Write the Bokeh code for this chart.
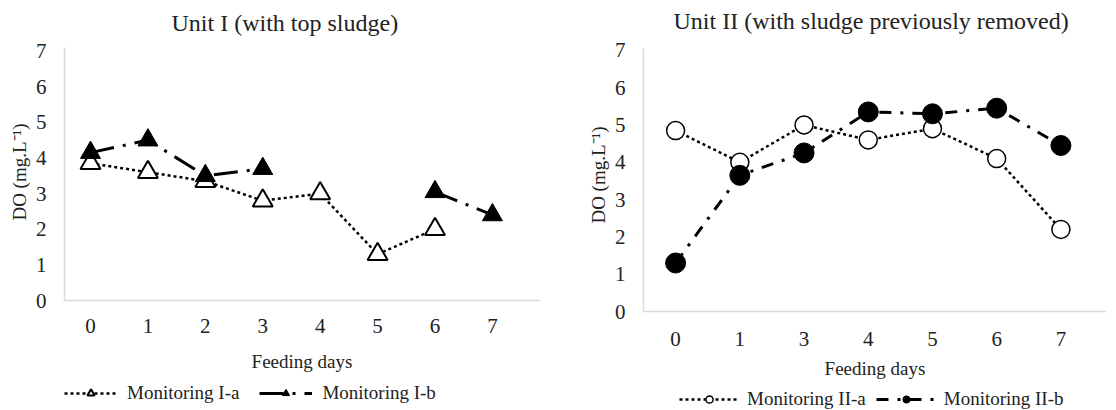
import math
from bokeh.plotting import figure
from bokeh.layouts import row, column
from bokeh.models import FixedTicker, Legend, LegendItem
from bokeh.embed import file_html
from bokeh.resources import INLINE

nan = float("nan")

# ---------- data ----------
days_1 = [0, 1, 2, 3, 4, 5, 6, 7]
mon_1a = [3.85, 3.6, 3.35, 2.8, 3.0, 1.3, 2.0, nan]
mon_1b = [4.15, 4.5, 3.5, 3.7, nan, nan, 3.05, 2.4]

days_2_labels = ["0", "1", "3", "4", "5", "6", "7"]
mon_2a = [4.85, 4.0, 5.0, 4.6, 4.9, 4.1, 2.2]
mon_2b = [1.3, 3.65, 4.25, 5.35, 5.3, 5.45, 4.45]

y_ticks = [0, 1, 2, 3, 4, 5, 6, 7]

series_names_1 = ["Monitoring I-a", "Monitoring I-b"]
series_names_2 = ["Monitoring II-a", "Monitoring II-b"]

FONT = "Liberation Serif"
AXIS_GRAY = "#d9d9d9"
TXT = "#222222"

STYLE_A = dict(line_color="black", line_width=2.5, line_dash="3 3")
STYLE_1B = dict(line_color="black", line_width=3, line_dash="24 9 3 9")
STYLE_2B = dict(line_color="black", line_width=3, line_dash="12 9 3 9")
TRI_OPEN = dict(marker="triangle", size=20, fill_color="white", line_color="black", line_width=2)
TRI_FULL = dict(marker="triangle", size=20, fill_color="black", line_color="black", line_width=1)
CIR_OPEN = dict(marker="circle", size=18, fill_color="white", line_color="black", line_width=1.5)
CIR_FULL = dict(marker="circle", size=20, fill_color="black", line_color="black", line_width=1)


def style(p, tick_standoff_x, label_standoff_x, y_top):
    p.xgrid.visible = False
    p.ygrid.visible = False
    p.outline_line_color = None
    p.background_fill_color = "white"
    p.border_fill_color = "white"
    for ax in (p.xaxis[0], p.yaxis[0]):
        ax.axis_line_color = AXIS_GRAY
        ax.axis_line_width = 1.5
        ax.major_tick_line_color = None
        ax.minor_tick_line_color = None
        ax.major_label_text_font = FONT
        ax.major_label_text_font_size = "21px"
        ax.major_label_text_color = TXT
        ax.axis_label_text_font = FONT
        ax.axis_label_text_font_size = "19px"
        ax.axis_label_text_font_style = "normal"
        ax.axis_label_text_color = TXT
    p.xaxis[0].major_label_standoff = tick_standoff_x
    p.xaxis[0].axis_label_standoff = label_standoff_x
    p.yaxis[0].major_label_standoff = 12
    p.yaxis[0].axis_label_standoff = 3
    p.yaxis[0].ticker = FixedTicker(ticks=y_ticks)
    p.yaxis[0].bounds = (0, y_top)
    p.title.text_font = FONT
    p.title.text_font_size = "24px"
    p.title.text_font_style = "normal"
    p.title.text_color = TXT
    p.title.align = "left"


def legend_fig(width, height, names, styles, x, y, glyph_w, spacing, standoff):
    lf = figure(width=width, height=height, x_range=(0, 1), y_range=(0, 1),
                x_axis_type=None, y_axis_type=None, output_backend="svg",
                toolbar_location=None, min_border=0, outline_line_color=None)
    lf.background_fill_color = "white"
    lf.border_fill_color = "white"
    items = []
    for name, (lstyle, mstyle) in zip(names, styles):
        r1 = lf.line(x=[nan], y=[nan], **lstyle)
        r2 = lf.scatter(x=[nan], y=[nan], **mstyle)
        items.append(LegendItem(label=name, renderers=[r1, r2]))
    leg = Legend(items=items, orientation="horizontal", location=(x, y),
                 glyph_width=glyph_w, glyph_height=18, label_height=18,
                 label_standoff=standoff, spacing=spacing,
                 padding=0, margin=0, border_line_color=None, background_fill_alpha=0,
                 label_text_font=FONT, label_text_font_size="19px", label_text_color=TXT)
    lf.add_layout(leg, "center")
    return lf


# ---------- left panel ----------
PX1 = 253 / 7.1
p1 = figure(frame_width=475, frame_height=257, x_range=(-0.453, 7.82),
            y_range=(0, 257 / PX1),
            output_backend="svg", toolbar_location=None,
            min_border_left=64, min_border_right=20, min_border_top=43, min_border_bottom=80,
            title="Unit I (with top sludge)")
style(p1, 12, 15, 7.1)
p1.title.offset = 107
p1.title.standoff = 15
p1.xaxis[0].ticker = FixedTicker(ticks=days_1)
p1.xaxis.axis_label = "Feeding days"
p1.yaxis.axis_label = "DO (mg.L\u207b\u00b9)"

p1.line(days_1, mon_1a, **STYLE_A)
p1.scatter(days_1, mon_1a, **TRI_OPEN)
p1.line(days_1, mon_1b, **STYLE_1B)
p1.scatter(days_1, mon_1b, **TRI_FULL)

lf1 = legend_fig(64 + 475 + 20, 26, series_names_1,
                 [(STYLE_A, TRI_OPEN), (STYLE_1B, TRI_FULL)], 0, 2, 53, 20, 10)

# ---------- right panel ----------
PX2 = 263 / 7.05
idx2 = list(range(len(days_2_labels)))
p2 = figure(frame_width=463, frame_height=273, x_range=(-0.5, 6.71),
            y_range=(0, 273 / PX2),
            output_backend="svg", toolbar_location=None,
            min_border_left=84, min_border_right=0, min_border_top=38, min_border_bottom=75,
            title="Unit II (with sludge previously removed)")
style(p2, 14, 9, 7.05)
p2.title.offset = 30
p2.title.standoff = 10
p2.xaxis[0].ticker = FixedTicker(ticks=idx2)
p2.xaxis[0].major_label_overrides = {i: lab for i, lab in zip(idx2, days_2_labels)}
p2.xaxis.axis_label = "Feeding days"
p2.yaxis.axis_label = "DO (mg.L\u207b\u00b9)"

p2.line(idx2, mon_2a, **STYLE_A)
p2.scatter(idx2, mon_2a, **CIR_OPEN)
p2.line(idx2, mon_2b, **STYLE_2B)
p2.scatter(idx2, mon_2b, **CIR_FULL)

lf2 = legend_fig(84 + 463, 24, series_names_2,
                 [(STYLE_A, CIR_OPEN), (STYLE_2B, CIR_FULL)], 36, 0, 60, 10, 8)

layout = row(column(p1, lf1), column(p2, lf2))
open("out.html", "w").write(file_html(layout, INLINE))
